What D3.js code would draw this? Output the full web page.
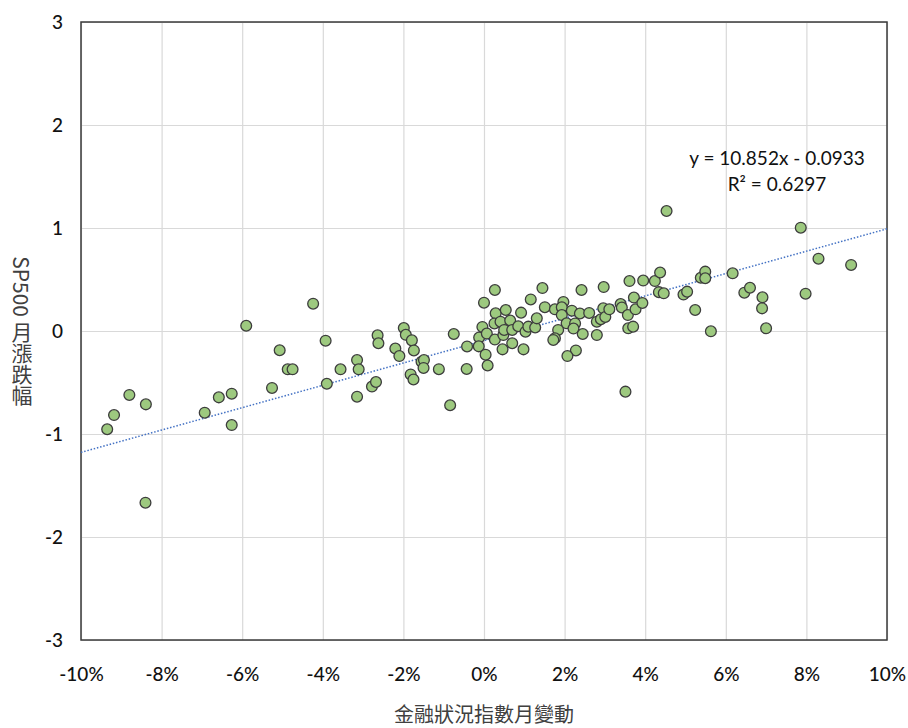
<!DOCTYPE html>
<html>
<head>
<meta charset="utf-8">
<script src="https://cdn.jsdelivr.net/npm/d3@7"></script>
<style>
  body { margin: 0; background: #fff; }
  svg { display: block; }
</style>
</head>
<body>
<script>
// 金融狀況指數月變動 (x) vs SP500 月漲跌幅 (y)
var xVals = [
  -0.0935, -0.0918, -0.0880, -0.0839, -0.0840, -0.0693, -0.0658, -0.0626, -0.0626, -0.0590,
  -0.0526, -0.0507, -0.0487, -0.0475, -0.0424, -0.0393, -0.0390, -0.0356, -0.0315, -0.0311,
  -0.0315, -0.0278, -0.0268, -0.0264, -0.0262, -0.0220, -0.0210, -0.0199, -0.0194, -0.0179,
  -0.0174, -0.0182, -0.0175, -0.0155, -0.0149, -0.0150, -0.0112, -0.0084, -0.0075, -0.0043,
  -0.0042, -0.0012, -0.0013, -0.0004, 0.0000, 0.0007, 0.0004, 0.0009, 0.0027, 0.0029,
  0.0026, 0.0027, 0.0041, 0.0054, 0.0065, 0.0048, 0.0050, 0.0070, 0.0070, 0.0046,
  0.0085, 0.0092, 0.0098, 0.0103, 0.0110, 0.0116, 0.0127, 0.0131, 0.0145, 0.0151,
  0.0176, 0.0197, 0.0193, 0.0218, 0.0238, 0.0261, 0.0296, 0.0193, 0.0280, 0.0290,
  0.0205, 0.0226, 0.0222, 0.0184, 0.0176, 0.0172, 0.0245, 0.0280, 0.0228, 0.0207,
  0.0242, 0.0297, 0.0301, 0.0311, 0.0339, 0.0342, 0.0351, 0.0358, 0.0370, 0.0357,
  0.0372, 0.0376, 0.0361, 0.0393, 0.0395, 0.0424, 0.0437, 0.0434, 0.0446, 0.0453,
  0.0495, 0.0504, 0.0524, 0.0538, 0.0549, 0.0549, 0.0563, 0.0617, 0.0646, 0.0660,
  0.0691, 0.0690, 0.0700, 0.0786, 0.0798, 0.0830, 0.0911
];
var yVals = [
  -0.954, -0.816, -0.621, -0.712, -1.667, -0.793, -0.644, -0.609, -0.913, 0.051,
  -0.553, -0.187, -0.372, -0.372, 0.265, -0.094, -0.512, -0.372, -0.282, -0.372,
  -0.638, -0.539, -0.495, -0.042, -0.119, -0.170, -0.243, 0.029, -0.037, -0.091,
  -0.189, -0.422, -0.471, -0.298, -0.282, -0.359, -0.371, -0.721, -0.029, -0.369,
  -0.150, -0.063, -0.149, 0.039, 0.275, -0.025, -0.230, -0.335, 0.398, 0.172,
  0.073, -0.083, 0.090, 0.204, 0.102, -0.039, 0.010, 0.010, -0.119, -0.178,
  0.046, 0.178, -0.178, -0.007, 0.042, 0.306, 0.034, 0.123, 0.417, 0.231,
  0.211, 0.282, 0.230, 0.197, 0.170, 0.175, 0.220, 0.155, 0.090, 0.114,
  0.075, 0.073, 0.024, 0.010, -0.071, -0.087, -0.029, -0.039, -0.189, -0.243,
  0.398, 0.427, 0.136, 0.211, 0.262, 0.228, -0.589, 0.026, 0.042, 0.155,
  0.325, 0.211, 0.485, 0.272, 0.490, 0.485, 0.568, 0.377, 0.366, 1.165,
  0.354, 0.382, 0.204, 0.517, 0.576, 0.512, -0.003, 0.560, 0.372, 0.420,
  0.327, 0.220, 0.026, 1.003, 0.362, 0.702, 0.641
];
var xTicks = [-0.10, -0.08, -0.06, -0.04, -0.02, 0, 0.02, 0.04, 0.06, 0.08, 0.10];
var yTicks = [-3, -2, -1, 0, 1, 2, 3];
var slope = 10.852, intercept = -0.0933;
var eqLabel = "y = 10.852x - 0.0933";
var r2Label = "R² = 0.6297";

var w = 908, h = 728;
var plotL = 81, plotR = 887, plotT = 22, plotB = 640;
var tickFont = "Lato, 'Open Sans', sans-serif";

var svg = d3.select("body").append("svg")
    .attr("width", w)
    .attr("height", h);

var x = d3.scaleLinear().domain([-0.1, 0.1]).range([plotL, plotR]);
var y = d3.scaleLinear().domain([-3, 3]).range([plotB, plotT]);

var pct = function(d) { return Math.round(d * 100) + "%"; };

// gridlines
svg.append("g")
    .attr("transform", "translate(0," + plotB + ")")
    .call(d3.axisBottom(x).tickValues(xTicks).tickSize(-(plotB - plotT)).tickFormat(""))
    .call(function(g) {
        g.select(".domain").remove();
        g.selectAll("line").attr("stroke", "#d9d9d9").attr("stroke-width", 1.2);
    });
svg.append("g")
    .attr("transform", "translate(" + plotL + ",0)")
    .call(d3.axisLeft(y).tickValues(yTicks).tickSize(-(plotR - plotL)).tickFormat(""))
    .call(function(g) {
        g.select(".domain").remove();
        g.selectAll("line").attr("stroke", "#d9d9d9").attr("stroke-width", 1.2);
    });

// plot border
svg.append("rect")
    .attr("x", plotL).attr("y", plotT)
    .attr("width", plotR - plotL).attr("height", plotB - plotT)
    .attr("fill", "none")
    .attr("stroke", "#3a3a3a")
    .attr("stroke-width", 1.5);

// tick labels
svg.append("g")
    .attr("transform", "translate(0," + plotB + ")")
    .call(d3.axisBottom(x).tickValues(xTicks).tickSize(0).tickPadding(28).tickFormat(pct))
    .call(function(g) {
        g.select(".domain").remove();
        g.selectAll("text").attr("font-family", tickFont).attr("font-size", "19px")
            .attr("font-weight", 500).attr("fill", "#111");
    });
svg.append("g")
    .attr("transform", "translate(" + plotL + ",0)")
    .call(d3.axisLeft(y).tickValues(yTicks).tickSize(0).tickPadding(18)
        .tickFormat(function(d) { return String(d); }))
    .call(function(g) {
        g.select(".domain").remove();
        g.selectAll("text").attr("font-family", tickFont).attr("font-size", "19px")
            .attr("font-weight", 500).attr("fill", "#111");
    });

// trend line
svg.append("line")
    .attr("x1", x(-0.1)).attr("y1", y(slope * -0.1 + intercept))
    .attr("x2", x(0.1)).attr("y2", y(slope * 0.1 + intercept))
    .attr("stroke", "#4472c4")
    .attr("stroke-width", 1.5)
    .attr("stroke-dasharray", "1.5,1.8");

// points
var points = xVals.map(function(d, i) { return [d, yVals[i]]; });
svg.selectAll("circle")
    .data(points)
    .enter()
    .append("circle")
    .attr("cx", function(d) { return x(d[0]); })
    .attr("cy", function(d) { return y(d[1]); })
    .attr("r", 5.4)
    .attr("fill", "#9dc97f")
    .attr("stroke", "#3d3d3d")
    .attr("stroke-width", 1.3);

// equation
svg.append("text")
    .text(eqLabel)
    .attr("x", 777).attr("y", 165)
    .attr("text-anchor", "middle")
    .attr("font-family", tickFont)
    .attr("font-size", "19px")
    .attr("fill", "#111");
svg.append("text")
    .text(r2Label)
    .attr("x", 777).attr("y", 191)
    .attr("text-anchor", "middle")
    .attr("font-family", tickFont)
    .attr("font-size", "19px")
    .attr("fill", "#111");

// axis titles
svg.append("text")
    .text("金融狀況指數月變動")
    .attr("x", (plotL + plotR) / 2).attr("y", 722)
    .attr("text-anchor", "middle")
    .attr("font-family", "'Noto Sans CJK TC', sans-serif")
    .attr("font-size", "20px")
    .attr("fill", "#404040");
svg.append("text")
    .text("SP500 月漲跌幅")
    .attr("x", 22).attr("y", 331)
    .attr("text-anchor", "middle")
    .style("writing-mode", "vertical-rl")
    .style("text-orientation", "mixed")
    .attr("font-family", "'Noto Sans CJK TC', sans-serif")
    .attr("font-size", "21px")
    .attr("fill", "#404040");
</script>
</body>
</html>
